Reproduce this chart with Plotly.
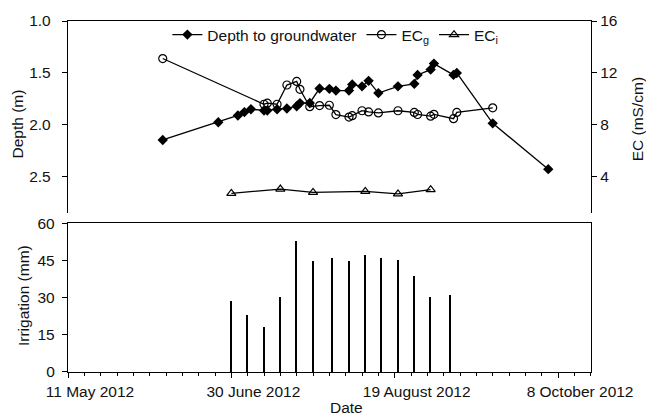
import plotly.graph_objects as go

# ---------------- data ----------------
depth_dates = ["2012-06-09", "2012-06-26", "2012-07-02", "2012-07-04", "2012-07-06",
               "2012-07-10", "2012-07-11", "2012-07-14", "2012-07-17", "2012-07-20",
               "2012-07-21", "2012-07-24", "2012-07-27", "2012-07-30", "2012-08-01",
               "2012-08-05", "2012-08-06", "2012-08-09", "2012-08-11", "2012-08-14",
               "2012-08-20", "2012-08-25", "2012-08-26", "2012-08-30", "2012-08-31",
               "2012-09-06", "2012-09-07", "2012-09-18", "2012-10-05"]
depth_m = [2.145, 1.975, 1.909, 1.877, 1.849, 1.861, 1.861, 1.849, 1.842, 1.82,
           1.79, 1.789, 1.65, 1.653, 1.67, 1.67, 1.61, 1.629, 1.576, 1.694,
           1.629, 1.605, 1.519, 1.468, 1.41, 1.519, 1.50, 1.985, 2.426]

ecg_dates = ["2012-06-09", "2012-07-10", "2012-07-11", "2012-07-14", "2012-07-17",
             "2012-07-20", "2012-07-21", "2012-07-24", "2012-07-27", "2012-07-30",
             "2012-08-01", "2012-08-05", "2012-08-06", "2012-08-09", "2012-08-11",
             "2012-08-14", "2012-08-20", "2012-08-25", "2012-08-26", "2012-08-30",
             "2012-08-31", "2012-09-06", "2012-09-07", "2012-09-18"]
ecg = [13.11, 9.59, 9.67, 9.59, 11.07, 11.35, 10.74, 9.40, 9.49, 9.51,
       8.79, 8.60, 8.71, 9.09, 9.00, 8.92, 9.09, 8.96, 8.80, 8.67,
       8.81, 8.48, 8.96, 9.31]

eci_dates = ["2012-06-30", "2012-07-15", "2012-07-25", "2012-08-10", "2012-08-20", "2012-08-30"]
eci = [2.72, 3.06, 2.80, 2.88, 2.68, 3.01]

irr_dates = ["2012-06-30", "2012-07-05", "2012-07-10", "2012-07-15", "2012-07-20",
             "2012-07-25", "2012-07-31", "2012-08-05", "2012-08-10", "2012-08-15",
             "2012-08-20", "2012-08-25", "2012-08-30", "2012-09-05"]
irrigation_mm = [28.5, 22.9, 18.0, 30.1, 52.6, 44.6, 45.9, 44.6, 47.1, 45.7,
                 45.1, 38.7, 30.0, 30.9]

x_tick_vals = ["2012-05-11", "2012-06-30", "2012-08-19", "2012-10-08"]
x_tick_text = ["11 May 2012", "30 June 2012", "19 August 2012", "8 October 2012"]
x_range = ["2012-05-11", "2012-10-18 02:00"]

depth_ticks = [1.0, 1.5, 2.0, 2.5]
ec_ticks = [4, 8, 12, 16]
irr_ticks = [0, 15, 30, 45, 60]

# ---------------- figure ----------------
FONT = "Liberation Sans, Arial, sans-serif"
INK = "#111111"
DAY_MS = 86400000
FS = 15.5

fig = go.Figure()

fig.add_trace(go.Scatter(
    x=depth_dates, y=depth_m, name="Depth to groundwater", mode="lines+markers",
    line=dict(color="black", width=1.3),
    marker=dict(symbol="diamond", size=8, color="black"),
    xaxis="x2", yaxis="y2"))
fig.add_trace(go.Scatter(
    x=ecg_dates, y=ecg, name="EC<sub>g</sub>", mode="lines+markers",
    line=dict(color="black", width=1.3),
    marker=dict(symbol="circle-open", size=8, color="black", line=dict(width=1.2)),
    xaxis="x2", yaxis="y3"))
fig.add_trace(go.Scatter(
    x=eci_dates, y=eci, name="EC<sub>i</sub>", mode="lines+markers",
    line=dict(color="black", width=1.3),
    marker=dict(symbol="triangle-up-open", size=8, color="black", line=dict(width=1.2)),
    xaxis="x2", yaxis="y3"))
fig.add_trace(go.Bar(
    x=irr_dates, y=irrigation_mm, name="Irrigation", showlegend=False,
    width=0.45 * DAY_MS, marker=dict(color="black", line=dict(width=0)),
    xaxis="x", yaxis="y"))

axis_common = dict(linecolor="black", linewidth=1.3, showgrid=False, zeroline=False,
                   tickcolor="black", tickfont=dict(family=FONT, size=FS, color=INK))

title_font = dict(family=FONT, size=FS, color=INK)

fig.update_layout(
    width=646, height=417,
    margin=dict(l=68, r=55, t=19, b=45),
    paper_bgcolor="white", plot_bgcolor="rgba(0,0,0,0)",
    font=dict(family=FONT, size=FS, color=INK),
    bargap=0,
    xaxis=dict(**axis_common, type="date", range=x_range, domain=[0, 1],
               tickmode="array", tickvals=x_tick_vals, ticktext=x_tick_text,
               ticks="outside", ticklen=5, showline=True, mirror=True,
               ticklabelshift=22,
               minor=dict(ticks="outside", ticklen=3, tickcolor="black",
                          dtick=5 * DAY_MS, tick0="2012-05-11", showgrid=False),
               anchor="y"),
    yaxis=dict(**axis_common, range=[0, 60], domain=[0, 0.424],
               tickmode="array", tickvals=irr_ticks, ticks="outside", ticklen=5,
               showline=True, mirror=True, anchor="x", ticklabelstandoff=4),
    xaxis2=dict(**axis_common, type="date", range=x_range, domain=[0, 1],
                side="top", showline=True, showticklabels=False, ticks="",
                anchor="y2", matches="x"),
    yaxis2=dict(**axis_common, range=[2.847, 1.0], domain=[0.4533, 1],
                tickmode="array", tickvals=depth_ticks, tickformat=".1f",
                ticks="outside", ticklen=5, showline=True, anchor="x2",
                ticklabelstandoff=8),
    yaxis3=dict(**axis_common, range=[1.222, 16], overlaying="y2", side="right",
                tickmode="array", tickvals=ec_ticks, ticks="outside", ticklen=5,
                showline=True, anchor="x2"),
    legend=dict(orientation="h", x=0.19, y=0.96, xanchor="left", yanchor="middle",
                bgcolor="rgba(0,0,0,0)", font=dict(family=FONT, size=FS, color=INK),
                itemwidth=30, tracegroupgap=0),
    annotations=[
        dict(text="Depth (m)", xref="paper", yref="paper", x=-0.097, y=0.706,
             xanchor="center", yanchor="middle",
             textangle=-90, showarrow=False, font=title_font),
        dict(text="EC (mS/cm)", xref="paper", yref="paper", x=1.088, y=0.72,
             xanchor="center", yanchor="middle",
             textangle=-90, showarrow=False, font=title_font),
        dict(text="Irrigation (mm)", xref="paper", yref="paper", x=-0.085, y=0.218,
             xanchor="center", yanchor="middle",
             textangle=-90, showarrow=False, font=title_font),
        dict(text="Date", xref="paper", yref="paper", x=0.532, y=-0.1,
             xanchor="center", yanchor="middle",
             showarrow=False, font=title_font),
    ],
)

fig.write_html("out.html")
